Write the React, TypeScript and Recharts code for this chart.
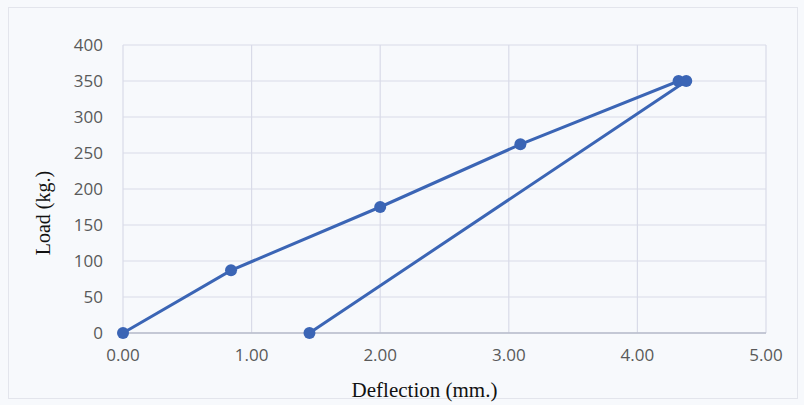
import React from "react";
import { ScatterChart, Scatter, XAxis, YAxis, CartesianGrid } from "recharts";

// load-unload path, in the order it was measured
const deflection = [0.0, 0.84, 2.0, 3.09, 4.32, 4.38, 1.45];
const load = [0, 87, 175, 262, 350, 350, 0];

const xTicks = [0, 1, 2, 3, 4, 5];
const yTicks = [0, 50, 100, 150, 200, 250, 300, 350, 400];

const data = deflection.map((d, i) => ({ x: d, y: load[i] }));

const BLUE = "#3b65b5";
const tickStyle = { fill: "#595959", fontSize: 17, fontFamily: "'Open Sans', sans-serif" };
const titleFont = "'Liberation Serif', 'Times New Roman', serif";

const Dot = (props: any) => <circle cx={props.cx} cy={props.cy} r={6} fill={BLUE} />;

export default function App() {
  return (
    <div style={{ position: "fixed", left: 0, top: 0, width: 804, height: 405, background: "#f7f9fc" }}>
      <div
        style={{
          position: "absolute",
          left: 8,
          top: 7,
          width: 790,
          height: 392,
          border: "1px solid #e3e5ec",
          boxSizing: "border-box",
        }}
      />
      <ScatterChart width={804} height={405} margin={{ top: 45, right: 38, bottom: 4, left: 30 }}>
        <CartesianGrid stroke="#d9dbe8" strokeWidth={1.2} />
        <XAxis
          type="number"
          dataKey="x"
          domain={[0, 5]}
          ticks={xTicks}
          tickFormatter={(v: number) => v.toFixed(2)}
          tick={tickStyle}
          tickLine={false}
          axisLine={{ stroke: "#b9bccb", strokeWidth: 1.5 }}
          tickSize={6}
          tickMargin={10}
          height={68}
          label={{
            value: "Deflection (mm.)",
            position: "insideBottom",
            offset: 4,
            dx: -20,
            style: { fill: "#111", fontSize: 21, fontFamily: titleFont },
          }}
        />
        <YAxis
          type="number"
          dataKey="y"
          domain={[0, 400]}
          ticks={yTicks}
          tick={tickStyle}
          tickLine={false}
          axisLine={false}
          tickSize={6}
          tickMargin={14}
          width={93}
          label={{
            value: "Load (kg.)",
            angle: -90,
            position: "insideLeft",
            offset: 13,
            dy: 24,
            style: { fill: "#111", fontSize: 20, fontFamily: titleFont, textAnchor: "middle" },
          }}
        />
        <Scatter
          data={data}
          fill={BLUE}
          line={{ stroke: BLUE, strokeWidth: 3 }}
          shape={Dot}
          isAnimationActive={false}
        />
      </ScatterChart>
    </div>
  );
}
